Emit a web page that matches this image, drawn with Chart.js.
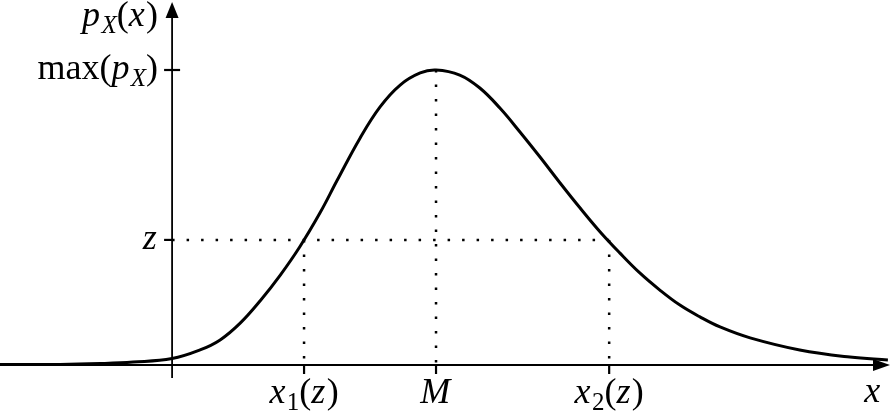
<!DOCTYPE html>
<html>
<head>
<meta charset="utf-8">
<script src="https://cdn.jsdelivr.net/npm/chart.js@4"></script>
<style>
    html, body { margin: 0; padding: 0; background: #fff; }
    #wrap { width: 890px; height: 412px; position: relative; }
</style>
</head>
<body>
<div id="wrap"><canvas id="densityChart"></canvas></div>
<script>
// ========== DATA ==========
// curve of p_X(x) (x in axis units, y relative to max)
const curveX = [-3.26, -2.12, -1.36, -0.74, 0, 0.53, 0.91, 1.29, 1.67, 2.05, 2.42, 2.80, 3.13, 3.56,
                3.94, 4.32, 4.70, 5.00, 5.45, 5.83, 6.21, 6.59, 6.97, 7.35, 7.73, 8.11, 8.48, 8.86,
                9.24, 9.62, 10.0, 10.38, 10.95, 11.89, 12.84, 13.56];
const curveY = [0.002, 0.002, 0.005, 0.010, 0.022, 0.051, 0.085, 0.142, 0.218, 0.305, 0.401, 0.515,
                0.627, 0.769, 0.875, 0.949, 0.990, 1.000, 0.983, 0.939, 0.871, 0.790, 0.705, 0.617,
                0.532, 0.451, 0.380, 0.312, 0.254, 0.203, 0.163, 0.129, 0.092, 0.051, 0.027, 0.017];

// marked positions on the x axis and their labels
const xMarks = [2.50, 5.00, 8.28];            // x1(z), M, x2(z)
const xMarkLabels = ['x_1(z)', 'M', 'x_2(z)'];

// marked levels on the y axis and their labels
const zLevel = 0.424;
const yMax = 1.0;
const yMarks = [yMax, zLevel];
const yMarkLabels = ['max(p_X)', 'z'];

const xAxisTitle = 'x';
const yAxisTitle = 'p_X(x)';

const xRange = [-3.26, 13.6];
const yRange = [0, 1.2];

// ========== HELPERS ==========
const FONT = '"Liberation Serif", "DejaVu Serif", serif';

// split 'x_1(z)' style strings into styled pieces
function mathPieces(str) {
    return str.match(/max|_.|./g).map(t => {
        if (t === 'max') return { text: t, italic: false, sub: false };
        if (t[0] === '_') return { text: t[1], italic: /[A-Za-z]/.test(t[1]), sub: true };
        return { text: t, italic: /[A-Za-z]/.test(t), sub: false };
    });
}

function drawMath(ctx, str, x, y, align, size) {
    const pieces = mathPieces(str);
    const fontFor = p => (p.italic ? 'italic ' : '') + Math.round(p.sub ? size * 0.7 : size) + 'px ' + FONT;
    let total = 0;
    pieces.forEach(p => {
        ctx.font = fontFor(p);
        p.w = ctx.measureText(p.text).width + (p.italic && !p.sub ? size * 0.04 : 0);
        total += p.w;
    });
    let cx = align === 'right' ? x - total : align === 'center' ? x - total / 2 : x;
    ctx.textAlign = 'left';
    ctx.textBaseline = 'alphabetic';
    pieces.forEach(p => {
        ctx.font = fontFor(p);
        ctx.fillText(p.text, cx, p.sub ? y + size * 0.2 : y);
        cx += p.w;
    });
}

// ========== AXES PLUGIN ==========
const mathAxes = {
    id: 'mathAxes',
    beforeDatasetsDraw(chart) {
        const { ctx, scales: { x, y } } = chart;
        const x0 = x.getPixelForValue(0);
        const y0 = y.getPixelForValue(0);
        const xEnd = x.getPixelForValue(xRange[1]);
        const yTop = y.getPixelForValue(yRange[1]);
        ctx.save();
        ctx.strokeStyle = '#000';
        ctx.fillStyle = '#000';
        ctx.lineWidth = 1.8;

        // x axis with arrow
        ctx.beginPath();
        ctx.moveTo(x.left, y0);
        ctx.lineTo(xEnd - 10, y0);
        ctx.stroke();
        ctx.beginPath();
        ctx.moveTo(xEnd, y0);
        ctx.lineTo(xEnd - 17, y0 - 6);
        ctx.lineTo(xEnd - 17, y0 + 6);
        ctx.closePath();
        ctx.fill();

        // y axis with arrow
        ctx.beginPath();
        ctx.moveTo(x0, y0 + 13);
        ctx.lineTo(x0, yTop + 4);
        ctx.stroke();
        ctx.beginPath();
        ctx.moveTo(x0, yTop - 9);
        ctx.lineTo(x0 - 6.5, yTop + 7);
        ctx.lineTo(x0 + 6.5, yTop + 7);
        ctx.closePath();
        ctx.fill();

        // x ticks
        ctx.lineWidth = 2.2;
        xMarks.forEach(v => {
            const px = x.getPixelForValue(v);
            ctx.beginPath();
            ctx.moveTo(px, y0);
            ctx.lineTo(px, y0 + 9);
            ctx.stroke();
        });
        // y ticks (max crosses the axis, z only on the left)
        yMarks.forEach((v, i) => {
            const py = y.getPixelForValue(v);
            ctx.beginPath();
            ctx.moveTo(x0 - 8, py);
            ctx.lineTo(i === 0 ? x0 + 8 : x0, py);
            ctx.stroke();
        });
        ctx.restore();
    },
    afterDraw(chart) {
        const { ctx, scales: { x, y } } = chart;
        const x0 = x.getPixelForValue(0);
        const y0 = y.getPixelForValue(0);
        ctx.save();
        ctx.fillStyle = '#000';
        const size = 36;
        xMarks.forEach((v, i) => {
            drawMath(ctx, xMarkLabels[i], x.getPixelForValue(v), y0 + 38, 'center', size);
        });
        yMarks.forEach((v, i) => {
            drawMath(ctx, yMarkLabels[i], x0 - 14, y.getPixelForValue(v) + 9, 'right', size);
        });
        drawMath(ctx, yAxisTitle, x0 - 14, 26, 'right', size);
        drawMath(ctx, xAxisTitle, x.getPixelForValue(xRange[1]) - 17, y0 + 37, 'center', size);
        ctx.restore();
    }
};

// ========== CHART ==========
const dotted = pts => ({
    data: pts,
    borderColor: '#000',
    borderWidth: 2.5,
    borderDash: [2.5, 12],
    pointRadius: 0,
    tension: 0,
    clip: false
});

new Chart(document.getElementById('densityChart'), {
    type: 'line',
    data: {
        datasets: [
            {
                data: curveX.map((v, i) => ({ x: v, y: curveY[i] })),
                borderColor: '#000',
                borderWidth: 3,
                pointRadius: 0,
                tension: 0.4,
                clip: false
            },
            dotted([{ x: 0, y: zLevel }, { x: xMarks[2], y: zLevel }]),
            dotted([{ x: xMarks[0], y: zLevel }, { x: xMarks[0], y: 0 }]),
            dotted([{ x: xMarks[1], y: yMax }, { x: xMarks[1], y: 0 }]),
            dotted([{ x: xMarks[2], y: zLevel }, { x: xMarks[2], y: 0 }])
        ].map((d, i) => Object.assign({ order: i === 0 ? 0 : 1 }, d))
    },
    options: {
        responsive: true,
        maintainAspectRatio: false,
        animation: false,
        layout: { padding: { left: 0, right: 0, top: 11, bottom: 47 } },
        plugins: { legend: { display: false }, tooltip: { enabled: false } },
        scales: {
            x: { type: 'linear', min: xRange[0], max: xRange[1], display: false },
            y: { min: yRange[0], max: yRange[1], display: false }
        }
    },
    plugins: [mathAxes]
});
</script>
</body>
</html>
